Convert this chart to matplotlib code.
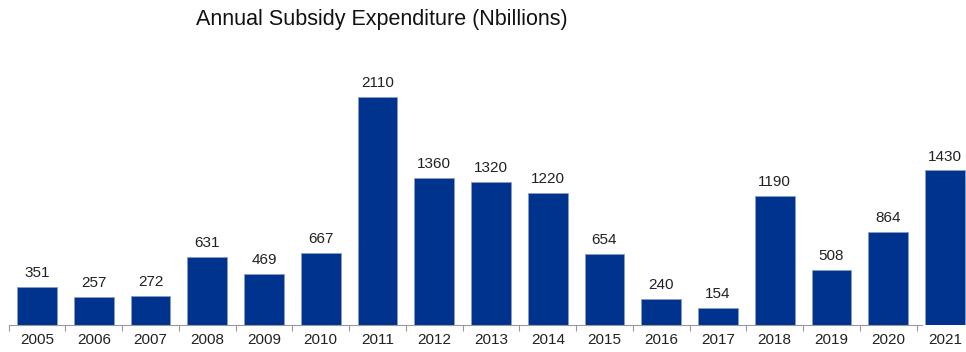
import matplotlib
matplotlib.use("Agg")
import matplotlib.pyplot as plt
import numpy as np

plt.rcParams["font.family"] = ["Liberation Sans", "DejaVu Sans"]

years = ["2005", "2006", "2007", "2008", "2009", "2010", "2011", "2012", "2013",
         "2014", "2015", "2016", "2017", "2018", "2019", "2020", "2021"]
subsidy = [351, 257, 272, 631, 469, 667, 2110, 1360, 1320,
           1220, 654, 240, 154, 1190, 508, 864, 1430]

BAR = "#00338D"
STEP = 56.75  # px per category

fig = plt.figure(figsize=(9.66, 3.52), dpi=100)
ax = fig.add_axes([(37 - STEP / 2) / 966, 27 / 352, 17 * STEP / 966, 285 / 352])

x = np.arange(len(years))
ax.bar(x, subsidy, width=0.70, color=BAR, edgecolor="#8a9cc4", linewidth=0.6)

for xi, v in zip(x, subsidy):
    ax.annotate(f"{v}", (xi, v), xytext=(0, 5), textcoords="offset points",
                ha="center", va="bottom", fontsize=11, color="#222")

ax.set_xlim(-0.5, 16.5)
ax.set_ylim(0, 2637)
ax.set_xticks(x)
ax.set_xticklabels(years, fontsize=11, color="#222")
ax.tick_params(axis="x", which="major", length=0, pad=6)
ax.set_xticks(np.arange(-0.5, len(years) - 0.5, 1), minor=True)
ax.tick_params(axis="x", which="minor", length=4, color="#999", width=0.8)
ax.set_yticks([])
for s in ["top", "right", "left"]:
    ax.spines[s].set_visible(False)
ax.spines["bottom"].set_color("#999")
ax.spines["bottom"].set_linewidth(0.8)
ax.spines["bottom"].set_bounds(-0.5, 15.6)

fig.text(382 / 966, 1 - 20 / 352, "Annual Subsidy Expenditure (Nbillions)",
         ha="center", va="center", fontsize=15.5, color="#111")

fig.savefig("out.png", dpi=100)
